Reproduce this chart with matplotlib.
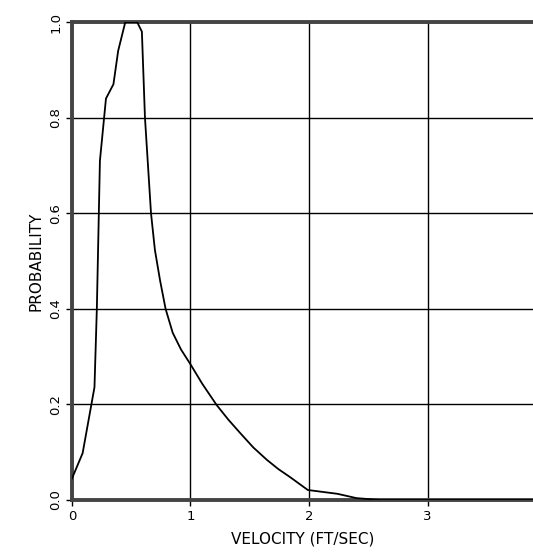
import numpy as np
import matplotlib.pyplot as plt
from matplotlib.ticker import MultipleLocator

# velocity (ft/sec) vs probability curve
velocity = [0.0, 0.09, 0.135, 0.19, 0.21, 0.236, 0.287, 0.35, 0.39, 0.45, 0.55,
            0.59, 0.616, 0.667, 0.70, 0.743, 0.79, 0.85, 0.92, 1.0, 1.1, 1.22,
            1.32, 1.42, 1.53, 1.645, 1.74, 1.84, 1.99, 2.24, 2.4, 2.6, 3.89]
probability = [0.045, 0.098, 0.16, 0.236, 0.40, 0.71, 0.84, 0.87, 0.94, 1.0, 1.0,
               0.98, 0.80, 0.60, 0.523, 0.46, 0.40, 0.35, 0.315, 0.284, 0.243, 0.199,
               0.168, 0.14, 0.11, 0.084, 0.065, 0.048, 0.021, 0.013, 0.004, 0.0, 0.0]

x_ticks = [0, 1, 2, 3]
y_ticks = [0.0, 0.2, 0.4, 0.6, 0.8, 1.0]

fig = plt.figure(figsize=(5.33, 5.59), dpi=100)
ax = fig.add_axes([0.135, 0.1055, 0.865, 0.855])

ax.plot(velocity, probability, color="black", lw=1.3, zorder=3)

ax.set_xlim(0, 3.89)
ax.set_ylim(0, 1.0)
ax.set_xticks(x_ticks)
ax.set_xticklabels([str(t) for t in x_ticks])
ax.set_yticks(y_ticks)
ax.set_yticklabels([f"{t:.1f}" for t in y_ticks], rotation=90, va="center")
ax.yaxis.set_minor_locator(MultipleLocator(0.04))

ax.grid(True, color="black", lw=1.0)
ax.tick_params(axis="both", which="major", length=4, width=1.0, labelsize=9.5, pad=3)
ax.tick_params(axis="y", which="minor", length=2, width=1.0, direction="inout")

for side in ["top", "bottom", "left"]:
    ax.spines[side].set_linewidth(2.8)
    ax.spines[side].set_color("#444444")
ax.spines["right"].set_visible(False)

ax.set_xlabel("VELOCITY (FT/SEC)", fontsize=11, labelpad=6)
ax.set_ylabel("PROBABILITY", fontsize=11, labelpad=4)

fig.savefig("out.png", dpi=100, facecolor="white")
